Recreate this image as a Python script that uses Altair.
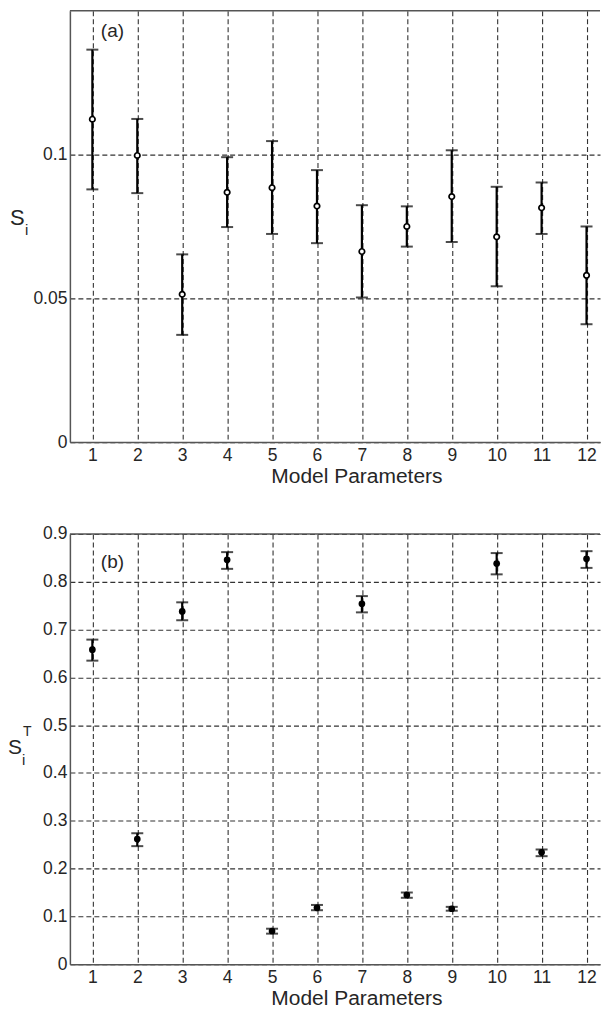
import altair as alt
import pandas as pd

params = list(range(1, 13))

# Panel (a): first-order indices S_i
si_val = [0.1123, 0.0997, 0.0514, 0.0869, 0.0885, 0.0821, 0.0663, 0.0750, 0.0854, 0.0714, 0.0815, 0.0580]
si_hi = [0.1365, 0.1124, 0.0653, 0.0991, 0.1047, 0.0946, 0.0824, 0.0820, 0.1015, 0.0888, 0.0903, 0.0750]
si_lo = [0.0879, 0.0866, 0.0373, 0.0748, 0.0724, 0.0692, 0.0503, 0.0680, 0.0696, 0.0542, 0.0724, 0.0410]

# Panel (b): total indices S_i^T
st_val = [0.658, 0.262, 0.738, 0.846, 0.0695, 0.118, 0.754, 0.145, 0.116, 0.838, 0.234, 0.848]
st_hi = [0.679, 0.274, 0.757, 0.862, 0.0743, 0.124, 0.770, 0.150, 0.120, 0.860, 0.240, 0.864]
st_lo = [0.635, 0.247, 0.7195, 0.827, 0.064, 0.113, 0.736, 0.139, 0.112, 0.8155, 0.226, 0.829]

a_ticks = [0, 0.05, 0.1]
b_ticks = [0, 0.1, 0.2, 0.3, 0.4, 0.5, 0.6, 0.7, 0.8, 0.9]

W = 531
FONT = "Liberation Sans"
TXT = "#262626"
AX = "#555555"

df_a = pd.DataFrame({"p": params, "v": si_val, "lo": si_lo, "hi": si_hi})
df_b = pd.DataFrame({"p": params, "v": st_val, "lo": st_lo, "hi": st_hi})


def panel(df, ydomain, yticks, height, filled, tag, tag_y, ylabel_parts):
    xax = alt.Axis(values=params, format="d", title="Model Parameters",
                   grid=True, gridDash=[5, 3], gridColor="#333333", gridWidth=1.1,
                   domainColor=AX, domainWidth=1.5, ticks=False,
                   labelFont=FONT, labelFontSize=17.5, labelColor=TXT, labelPadding=4,
                   titleFont=FONT, titleFontSize=21, titleColor=TXT, titleFontWeight="normal",
                   titlePadding=2, titleX=287, titleAlign="center", labelFlush=False)
    yax = alt.Axis(values=yticks, format="~g", title=None,
                   grid=True, gridDash=[5, 3], gridColor="#333333", gridWidth=1.1,
                   domainColor=AX, domainWidth=1.5, ticks=False,
                   labelFont=FONT, labelFontSize=17.5, labelColor=TXT, labelPadding=3,
                   labelFlush=False)
    x = alt.X("p:Q", scale=alt.Scale(domain=[0.5, 12.3], nice=False, zero=False), axis=xax)
    y = alt.Y("v:Q", scale=alt.Scale(domain=ydomain, nice=False), axis=yax)

    base = alt.Chart(df)
    rules = base.mark_rule(color="black", strokeWidth=2.2).encode(
        x=x, y=alt.Y("lo:Q"), y2="hi:Q")
    cap_hi = base.mark_tick(color="black", orient="horizontal", size=12, thickness=2).encode(
        x="p:Q", y="hi:Q")
    cap_lo = base.mark_tick(color="black", orient="horizontal", size=12, thickness=2).encode(
        x="p:Q", y="lo:Q")
    if filled:
        pts = base.mark_point(shape="circle", filled=True, color="black", size=45, opacity=1).encode(x="p:Q", y=y)
    else:
        pts = base.mark_point(shape="circle", filled=True, fill="white", stroke="black",
                              strokeWidth=1.7, size=30, opacity=1).encode(x="p:Q", y=y)
    top = alt.Chart(pd.DataFrame({"d": [0]})).mark_rule(color=AX, strokeWidth=1.5).encode(
        x=alt.value(0), x2=alt.value(W), y=alt.value(0))
    tag_txt = alt.Chart(pd.DataFrame({"t": [tag]})).mark_text(
        font=FONT, fontSize=19, color=TXT, align="left", baseline="middle").encode(
        x=alt.value(31), y=alt.value(tag_y), text="t:N")
    layers = [rules, cap_hi, cap_lo, pts, top, tag_txt]
    for (txt, xx, yy, fs) in ylabel_parts:
        layers.append(alt.Chart(pd.DataFrame({"t": [txt]})).mark_text(
            font=FONT, fontSize=fs, color=TXT, align="left", baseline="middle").encode(
            x=alt.value(xx), y=alt.value(yy), text="t:N"))
    return alt.layer(*layers).properties(width=W, height=height)


pa = panel(df_a, [0, 0.15], a_ticks, 432, False, "(a)", 20,
           [("S", -60, 208, 22), ("i", -45, 220, 15)])
pb = panel(df_b, [0, 0.9], b_ticks, 431, True, "(b)", 28,
           [("S", -62, 214, 21), ("T", -47, 198, 14), ("i", -48, 226, 15)])

chart = alt.vconcat(pa, pb, spacing=92, bounds="flush").properties(
    padding={"left": 0, "top": 1, "right": 0, "bottom": 0}
).configure_view(stroke=None)

chart.save("out.html", embed_options={"renderer": "svg", "actions": False})
